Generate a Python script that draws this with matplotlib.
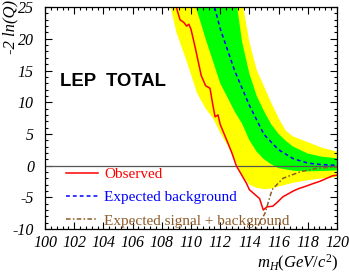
import numpy as np
import matplotlib
matplotlib.use('Agg')
import matplotlib.pyplot as plt
from matplotlib.ticker import MultipleLocator

plt.rcParams['axes.unicode_minus'] = False
plt.rcParams['mathtext.fontset'] = 'custom'
plt.rcParams['mathtext.it'] = 'Liberation Serif:italic'
plt.rcParams['mathtext.rm'] = 'Liberation Serif'

# observed -2ln(Q)
m_obs = [108.9, 109.05, 109.25, 109.5, 109.7, 109.85, 110.0, 110.3, 110.7, 111.0, 111.3,
         111.5, 111.65, 111.85, 112.0, 112.45, 112.8, 113.1, 113.5, 113.8, 114.0, 114.3,
         114.7, 114.95, 115.2, 115.6, 115.9, 116.3, 116.7, 117.0, 117.4, 117.8, 118.4,
         118.8, 119.3, 119.7, 120.0]
v_obs = [26.0, 24.5, 23.0, 22.6, 22.0, 22.3, 21.5, 18.5, 14.2, 12.6, 12.2,
         9.5, 7.7, 8.0, 6.5, 4.0, 2.0, 0.0, -1.6, -2.8, -3.8, -4.4,
         -5.2, -7.0, -6.5, -6.4, -5.8, -4.9, -4.4, -4.0, -3.6, -3.3, -2.8,
         -2.5, -2.0, -1.6, -1.5]

# expected background
m_bkg = [111.5, 112.0, 113.0, 114.0, 115.0, 116.0, 117.0, 118.0, 119.0, 120.0]
v_bkg = [26.0, 21.6, 14.9, 9.5, 4.9, 2.5, 1.1, 0.4, 0.15, 0.05]

# expected signal + background
m_sb = [114.3, 114.5, 115.07, 115.55, 116.3, 117.5, 118.6, 120.0]
v_sb = [-11.0, -9.85, -7.5, -3.8, -2.0, -0.96, -0.43, -0.17]

# 1 sigma band
m_g_lo = [110.2, 111.0, 112.0, 113.0, 113.5, 114.0, 114.5, 115.0, 115.5, 116.0, 117.0, 118.0, 119.0, 120.0]
v_g_lo = [26.0, 20.0, 13.0, 8.5, 6.6, 4.0, 2.2, 1.0, 0.2, -0.4, -0.8, -0.9, -0.85, -0.75]
m_g_hi = [113.1, 113.5, 114.0, 114.5, 115.0, 115.5, 116.0, 116.5, 117.0, 118.0, 119.0, 120.0]
v_g_hi = [26.0, 19.5, 14.5, 11.0, 8.6, 6.5, 5.0, 3.9, 3.0, 1.9, 1.4, 1.15]

# 2 sigma band
m_y_lo = [108.5, 109.0, 109.7, 110.4, 111.0, 111.5, 112.0, 112.5, 113.0, 113.5, 114.0,
          114.5, 115.0, 115.5, 116.0, 117.0, 118.0, 119.0, 120.0]
v_y_lo = [26.0, 21.0, 16.5, 11.5, 9.0, 7.5, 5.2, 3.2, 1.0, -1.5, -3.0,
          -3.5, -3.7, -3.6, -3.3, -2.7, -2.3, -2.0, -1.8]
m_y_hi = [113.5, 114.0, 114.5, 115.0, 115.5, 116.0, 116.5, 117.0, 118.0, 119.0, 120.0]
v_y_hi = [26.0, 19.5, 15.1, 12.5, 9.9, 7.5, 5.5, 4.6, 3.7, 2.8, 2.2]

serif = 'Liberation Serif'

fig = plt.figure(figsize=(3.49, 2.73), dpi=100)
ax = fig.add_axes([0.129, 0.161, 0.8366, 0.813])

ax.fill(np.concatenate([m_y_lo, m_y_hi[::-1]]), np.concatenate([v_y_lo, v_y_hi[::-1]]),
        color='#ffff00', lw=0)
ax.fill(np.concatenate([m_g_lo, m_g_hi[::-1]]), np.concatenate([v_g_lo, v_g_hi[::-1]]),
        color='#00ff00', lw=0)
ax.axhline(0, color='#555555', lw=0.9)

ax.plot(m_obs, v_obs, color='#ff0000', lw=1.1, label='Observed')
ax.plot(m_bkg, v_bkg, color='#0000ff', lw=1.1, ls=(0, (2.5, 2)), label='Expected background')
ax.plot(m_sb, v_sb, color='#8c5a28', lw=1.1, ls=(0, (3, 1.5, 1, 1.5)),
        label='Expected signal + background')

ax.set_xlim(100, 120)
ax.set_ylim(-10, 25)
ax.xaxis.set_major_locator(MultipleLocator(2))
ax.xaxis.set_minor_locator(MultipleLocator(0.4))
ax.yaxis.set_major_locator(MultipleLocator(5))
ax.yaxis.set_minor_locator(MultipleLocator(1))
ax.tick_params(which='both', direction='in', top=True, right=True, width=0.8)
ax.tick_params(which='major', length=5)
ax.tick_params(which='minor', length=2.5)
ax.tick_params(axis='x', pad=4)
ax.tick_params(axis='y', pad=8)
for lab in ax.get_xticklabels() + ax.get_yticklabels():
    lab.set_family(serif)
    lab.set_style('italic')
    lab.set_fontsize(11.5)
for s in ax.spines.values():
    s.set_linewidth(0.9)

ax.text(101.0, 13.2, 'LEP  TOTAL', family='Liberation Sans', weight='bold',
        fontsize=13.3, va='center', ha='left')

leg = ax.legend(loc='lower left', bbox_to_anchor=(0.065, 0.0), frameon=False,
                prop={'family': serif, 'size': 11}, handlelength=2.1,
                handletextpad=0.45, labelspacing=0.62, borderpad=0.1,
                borderaxespad=0, labelcolor='linecolor')

fig.text(10 / 349, 1.0, '-2 ln(Q)', rotation=90, ha='center', va='top',
         family=serif, style='italic', fontsize=12)
fig.text(0.97, 0.035, r'$m_H(GeV/c^2)$', ha='right', va='center', fontsize=12)

fig.savefig('out.png', dpi=100)
